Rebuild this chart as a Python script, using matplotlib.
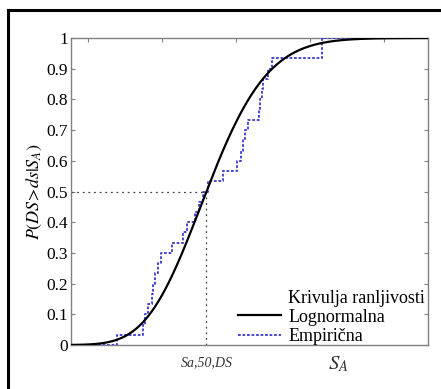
import numpy as np
import matplotlib
matplotlib.use("Agg")
import matplotlib.pyplot as plt
from matplotlib.lines import Line2D
from math import erf

plt.rcParams['font.family'] = ['Liberation Serif', 'DejaVu Serif']
plt.rcParams['mathtext.fontset'] = 'stix'

# Data
median_sa = 1.12      # Sa,50,DS
beta = 0.115          # lognormal dispersion
empirical_x = [0.878, 0.948, 0.955, 0.961, 0.973, 0.977, 0.982, 0.988, 0.996,
               1.026, 1.058, 1.067, 1.088, 1.099, 1.112, 1.123, 1.165, 1.202,
               1.214, 1.219, 1.224, 1.232, 1.263, 1.266, 1.269, 1.274, 1.286,
               1.297, 1.432, 1.432]
ytick_vals = [0, 0.1, 0.2, 0.3, 0.4, 0.5, 0.6, 0.7, 0.8, 0.9, 1]
ytick_labels = ['0', '0.1', '0.2', '0.3', '0.4', '0.5', '0.6', '0.7', '0.8', '0.9', '1']
top_ticks = [0.8, 1.0, 1.2, 1.4, 1.6]
x_min, x_max = 0.754, 1.719

fig = plt.figure(figsize=(4.41, 3.89), dpi=100)
ax = fig.add_axes([71/441, 44/389, 357/441, 307/389])

# lognormal curve
xs = np.linspace(x_min, x_max, 600)
ys = np.array([0.5 * (1 + erf(np.log(x / median_sa) / (beta * np.sqrt(2)))) for x in xs])

# empirical CDF
ex = np.sort(np.array(empirical_x))
n = len(ex)
step_x = np.concatenate([[x_min], ex, [x_max]])
step_y = np.concatenate([[0], np.arange(1, n + 1) / n, [1]])

blue = '#3838d0'
ax.step(step_x, step_y, where='post', color=blue, lw=1.3,
        linestyle=(0, (1.5, 1)), label='Empirična', zorder=3)
ax.plot(xs, ys, color='black', lw=1.6, label='Lognormalna', zorder=4)

# reference dotted lines
ax.plot([x_min, median_sa], [0.5, 0.5], color='#444444', lw=0.9, linestyle=(0, (1.5, 3)), zorder=2)
ax.plot([median_sa, median_sa], [0, 0.5], color='#444444', lw=0.9, linestyle=(0, (1.5, 3)), zorder=2)

ax.set_xlim(x_min, x_max)
ax.set_ylim(0, 1)
ax.set_yticks(ytick_vals)
ax.set_yticklabels(ytick_labels, fontsize=12.5)
ax.set_xticks(top_ticks)
ax.tick_params(axis='x', direction='in', top=True, bottom=False, labelbottom=False,
               length=3, color='#808080')
ax.tick_params(axis='y', direction='in', left=True, right=True, length=3,
               color='#808080', pad=2)
for s in ax.spines.values():
    s.set_color('#808080')
    s.set_linewidth(1.0)

ax.set_ylabel(r'$P(DS\!>\!ds|S_A)$', fontsize=13, labelpad=2)

ax.text(median_sa, -0.035, 'Sa,50,DS', style='italic', fontsize=10,
        ha='center', va='top', transform=ax.transData, color='#333333')
ax.text(1.476, -0.03, r'$S_A$', fontsize=15, ha='center', va='top', color='#333333')

handles = [Line2D([], [], color='none'),
           Line2D([], [], color='black', lw=1.6),
           Line2D([], [], color=blue, lw=1.3, linestyle=(0, (1.5, 1)))]
labels = ['Krivulja ranljivosti', 'Lognormalna', 'Empirična']
leg = ax.legend(handles, labels, loc='lower right', bbox_to_anchor=(1.022, -0.035),
                frameon=False, fontsize=13, handlelength=2.4, handletextpad=0.4,
                labelspacing=0.12, borderaxespad=0.2)

# figure frame (left and top)
fig.add_artist(Line2D([8/441, 8/441], [0, 1 - 10/389], color='black', lw=2.2,
                      transform=fig.transFigure))
fig.add_artist(Line2D([8/441, 1], [1 - 10/389, 1 - 10/389], color='black', lw=2.2,
                      transform=fig.transFigure))

fig.savefig('out.png', dpi=100)
